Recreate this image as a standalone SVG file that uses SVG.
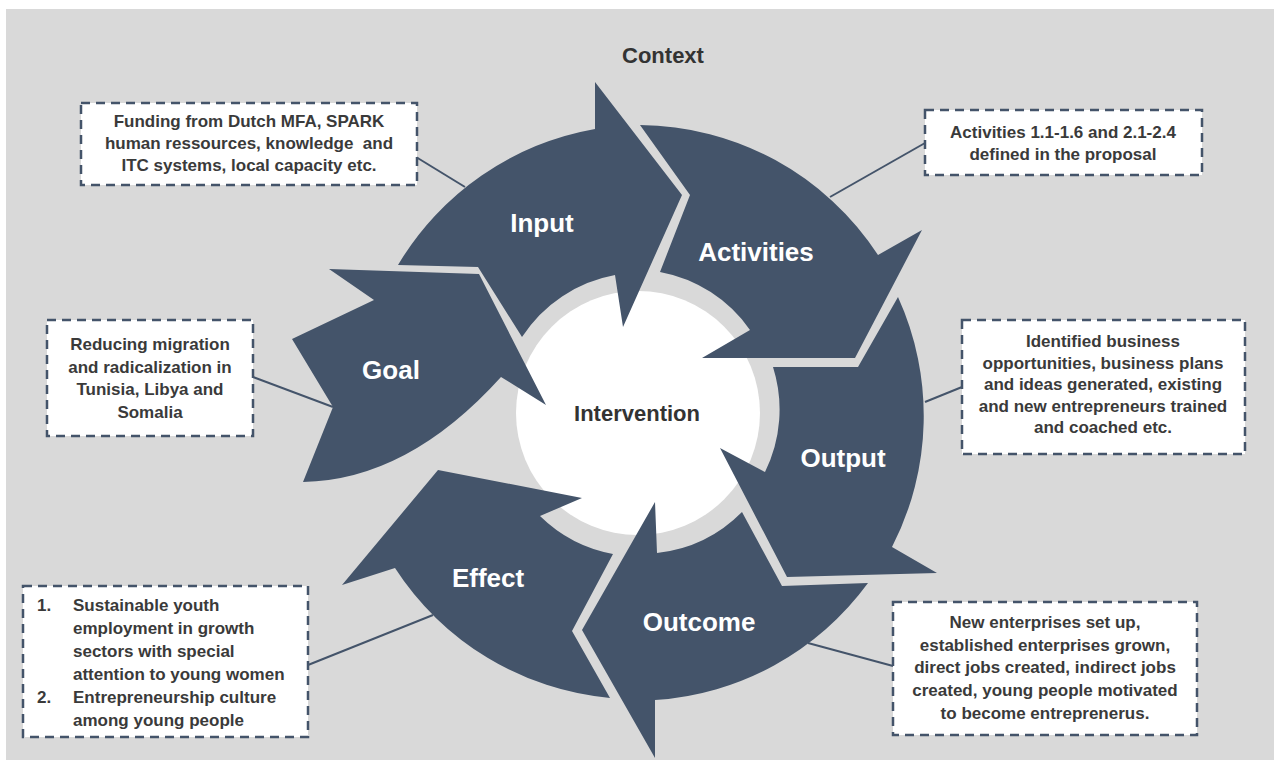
<svg xmlns="http://www.w3.org/2000/svg" width="1274" height="760" viewBox="0 0 1274 760">
<style>
.bg{fill:#d9d9d9}
.arrow{fill:#44546a}
.lbl{font-family:"Liberation Sans",Arial,sans-serif;font-weight:bold;font-size:26px;fill:#ffffff;text-anchor:middle}
.dark{font-family:"Liberation Sans",Arial,sans-serif;font-weight:bold;font-size:22px;fill:#333333;text-anchor:middle}
.box{fill:#ffffff;stroke:#44546a;stroke-width:2.5;stroke-dasharray:9,6}
.bt{font-family:"Liberation Sans",Arial,sans-serif;font-weight:bold;font-size:17px;fill:#3a3a3a;text-anchor:middle}
.bl{font-family:"Liberation Sans",Arial,sans-serif;font-weight:bold;font-size:17px;fill:#3a3a3a}
.conn{stroke:#44546a;stroke-width:2;fill:none}
</style>
<rect class="bg" x="6" y="9" width="1268" height="751"/>
<text class="dark" x="663" y="63">Context</text>

<g id="center">
<circle cx="638" cy="413" r="122" fill="#ffffff"/>
<text class="dark" x="637" y="421">Intervention</text>
</g>

<g id="connectors">
<line class="conn" x1="416" y1="157" x2="465" y2="187"/>
<line class="conn" x1="925" y1="143" x2="830" y2="197"/>
<line class="conn" x1="253" y1="377" x2="333" y2="407"/>
<line class="conn" x1="962" y1="387" x2="925" y2="402"/>
<line class="conn" x1="308" y1="665" x2="433" y2="615"/>
<line class="conn" x1="893" y1="666" x2="808" y2="643"/>
</g>

<g id="input">
<path class="arrow" d="M595,82 L682,195 L623,327 L615,275 A141,141 0 0 0 522,337 L478,267 L398,265 A287,287 0 0 1 595,129 Z"/>
<text class="lbl" x="542" y="232">Input</text>
</g>

<g id="activities">
<path class="arrow" d="M640,125 L690,195 L660,272 A141,141 0 0 1 750,330 L702,358 L855,358 L922,230 L878,255 A287,287 0 0 0 640,125 Z"/>
<text class="lbl" x="756" y="261">Activities</text>
</g>

<g id="output">
<path class="arrow" d="M898,297 L858,367 L773,367 A141,141 0 0 1 765,472 L720,448 L787,577 L937,573 L892,547 A287,287 0 0 0 898,297 Z"/>
<text class="lbl" x="843" y="467">Output</text>
</g>

<g id="outcome">
<path class="arrow" d="M868,583 L782,586 L742,512 A141,141 0 0 1 657,553 L655,502 L582,630 L655,758 L655,700 A287,287 0 0 0 868,583 Z"/>
<text class="lbl" x="699" y="631">Outcome</text>
</g>

<g id="effect">
<path class="arrow" d="M610,698 L572,631 L613,554 A141,141 0 0 1 540,516 L582,498 L438,470 L342,585 L395,568 A287,287 0 0 0 610,698 Z"/>
<text class="lbl" x="488" y="587">Effect</text>
</g>

<g id="goal">
<path class="arrow" d="M329,269 L479,274 L546,405 L501,377 Q408,480 303,482 L333,407 L292,339 L374,300 Z"/>
<text class="lbl" x="391" y="379">Goal</text>
</g>

<g id="box-input">
<rect class="box" x="81" y="103" width="336" height="82"/>
<text class="bt" x="249" y="127">Funding from Dutch MFA, SPARK</text>
<text class="bt" x="249" y="149" style="white-space:pre">human ressources, knowledge  and</text>
<text class="bt" x="249" y="171">ITC systems, local capacity etc.</text>
</g>

<g id="box-activities">
<rect class="box" x="925" y="110" width="277" height="65"/>
<text class="bt" x="1063" y="138">Activities 1.1-1.6 and 2.1-2.4</text>
<text class="bt" x="1063" y="160">defined in the proposal</text>
</g>

<g id="box-goal">
<rect class="box" x="47" y="320" width="206" height="116"/>
<text class="bt" x="150" y="350">Reducing migration</text>
<text class="bt" x="150" y="372.5">and radicalization in</text>
<text class="bt" x="150" y="395">Tunisia, Libya and</text>
<text class="bt" x="150" y="417.5">Somalia</text>
</g>

<g id="box-output">
<rect class="box" x="962" y="320" width="283" height="134"/>
<text class="bt" x="1103" y="347">Identified business</text>
<text class="bt" x="1103" y="368.5">opportunities, business plans</text>
<text class="bt" x="1103" y="390">and ideas generated, existing</text>
<text class="bt" x="1103" y="411.5">and new entrepreneurs trained</text>
<text class="bt" x="1103" y="433">and coached etc.</text>
</g>

<g id="box-effect">
<rect class="box" x="23" y="586" width="285" height="151"/>
<text class="bl" x="37" y="611">1.</text>
<text class="bl" x="73" y="611">Sustainable youth</text>
<text class="bl" x="73" y="634">employment in growth</text>
<text class="bl" x="73" y="657">sectors with special</text>
<text class="bl" x="73" y="680">attention to young women</text>
<text class="bl" x="37" y="703">2.</text>
<text class="bl" x="73" y="703">Entrepreneurship culture</text>
<text class="bl" x="73" y="726">among young people</text>
</g>

<g id="box-outcome">
<rect class="box" x="893" y="602" width="304" height="133"/>
<text class="bt" x="1045" y="628">New enterprises set up,</text>
<text class="bt" x="1045" y="650.7">established enterprises grown,</text>
<text class="bt" x="1045" y="673.3">direct jobs created, indirect jobs</text>
<text class="bt" x="1045" y="696">created, young people motivated</text>
<text class="bt" x="1045" y="718.7">to become entreprenerus.</text>
</g>
</svg>
